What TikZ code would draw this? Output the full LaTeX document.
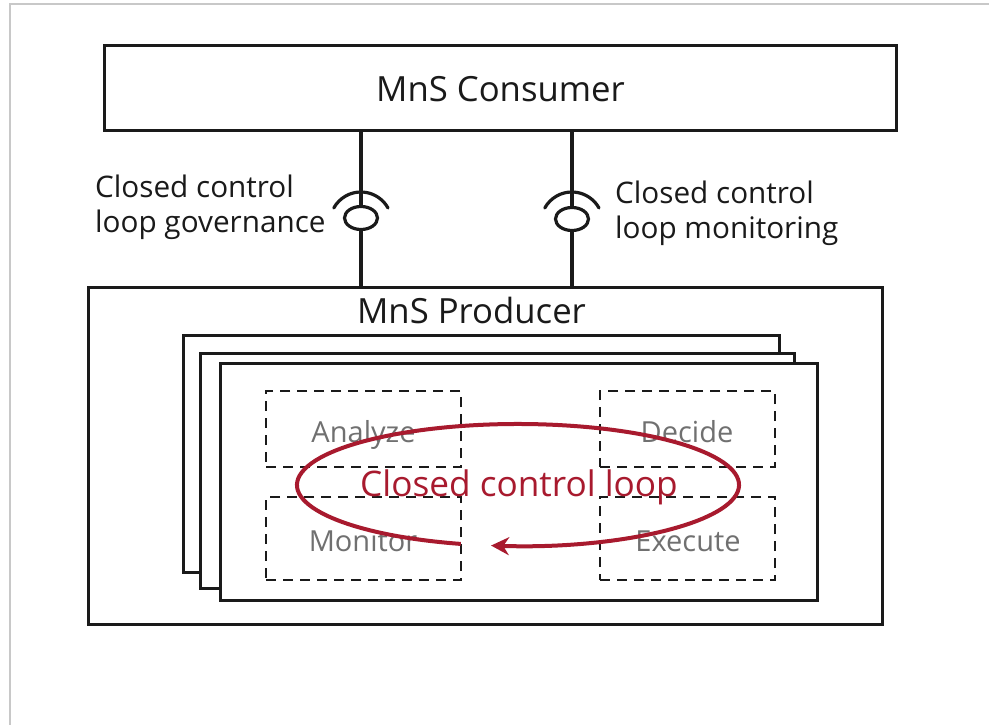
\documentclass[tikz,border=0pt]{standalone}
\usepackage{fontspec}
\setmainfont{Open Sans}
\usetikzlibrary{arrows.meta,calc,shapes.geometric}
\definecolor{ink}{HTML}{1A1A1A}
\definecolor{loopred}{HTML}{A81A2E}
\definecolor{graytxt}{HTML}{707070}
\definecolor{frame}{HTML}{C8C8C8}
\tikzset{
  box/.style={draw=ink, line width=3pt, fill=white, inner sep=0pt},
  dbox/.style={draw=ink, line width=2.8pt, dash pattern=on 10pt off 7pt, inner sep=0pt},
  link/.style={draw=ink, line width=3.2pt},
  iface/.style={ellipse, draw=ink, line width=3.2pt, minimum width=33pt, minimum height=23pt, inner sep=0pt},
  head/.style={font=\fontsize{34.7}{40}\selectfont, text=ink, inner sep=0pt},
  lbl/.style={font=\fontsize{29.7}{35}\selectfont, text=ink, align=left, inner sep=0pt},
  stage/.style={font=\fontsize{29}{32}\selectfont, text=graytxt, inner sep=0pt},
  loopline/.style={draw=loopred, line width=4pt, -{Stealth[length=18pt,width=18pt]}},
  looptxt/.style={font=\fontsize{35.2}{40}\selectfont, text=loopred, inner sep=0pt}
}
\begin{document}
\begin{tikzpicture}[x=1pt,y=-1pt]
\useasboundingbox (0,0) rectangle (989,725);
\fill[white] (0,0) rectangle (989,725);
% outer light frame
\draw[frame, line width=1.5pt] (10,725) -- (10,4) -- (989,4);

% consumer
\node[box, minimum width=792pt, minimum height=84pt] (consumer) at (500,88) {};
\node[head, anchor=base] (consumertxt) at (500.5,102) {MnS Consumer};

% producer
\node[box, minimum width=794pt, minimum height=337pt] (producer) at (485,455.5) {};
\node[head, anchor=base] (producertxt) at (471.5,323) {MnS Producer};

% stacked loop instances
\node[box, minimum width=596pt, minimum height=237pt] (back) at (481,453.5) {};
\node[box, minimum width=594pt, minimum height=235pt] (middle) at (497,470.5) {};
\node[box, minimum width=597pt, minimum height=237pt] (front) at (518.5,482) {};

% dashed function boxes
\node[dbox, minimum width=195pt, minimum height=76pt] (analyzebox) at (363.5,429) {};
\node[dbox, minimum width=175pt, minimum height=76pt] (decidebox) at (687.5,429) {};
\node[dbox, minimum width=195pt, minimum height=83pt] (monitorbox) at (363.5,538.5) {};
\node[dbox, minimum width=175pt, minimum height=83pt] (executebox) at (687.5,538.5) {};

\node[stage, anchor=base] (analyze) at (363.5,442) {Analyze};
\node[stage, anchor=base] (decide) at (687,442) {Decide};
\node[stage, anchor=base] (monitor) at (363,551) {Monitor};
\node[stage, anchor=base] (execute) at (688,551) {Execute};

% closed loop ellipse with arrow
\coordinate (loopc) at (518,485);
\draw[loopline] ([shift={(-105:221pt and 61pt)}]loopc) arc[start angle=-105, end angle=-457, x radius=221pt, y radius=61pt];
\node[looptxt, anchor=base] (looplabel) at (519,496) {Closed control loop};

% interfaces
\node[iface] (ifL) at (361,218) {};
\node[iface] (ifR) at (572,219) {};
\draw[link] (ifL.north |- consumer.south) -- (ifL.north);
\draw[link] (ifL.south) -- (ifL.south |- producer.north);
\draw[link] (ifR.north |- consumer.south) -- (ifR.north);
\draw[link] (ifR.south) -- (ifR.south |- producer.north);
\draw[link, line cap=round] ($(ifL)+(27,-10)$) arc[start angle=29, end angle=151, radius=31pt];
\draw[link, line cap=round] ($(ifR)+(27,-11)$) arc[start angle=29, end angle=151, radius=31pt];

% interface labels (base anchor = baseline of last line)
\node[lbl, anchor=base west] (govlbl) at (95,232) {Closed control\\loop governance};
\node[lbl, anchor=base west] (monlbl) at (615,238) {Closed control\\loop monitoring};
\end{tikzpicture}
\end{document}
